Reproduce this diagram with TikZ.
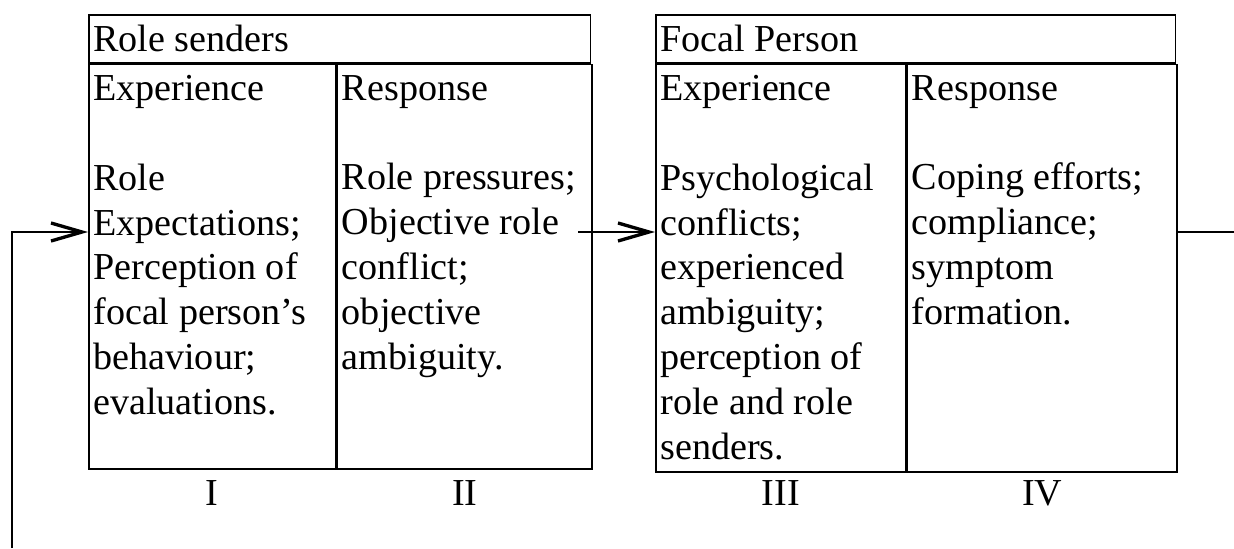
\documentclass[tikz,border=0pt]{standalone}
\usepackage{fontspec}
\setmainfont{Liberation Serif}
\usetikzlibrary{arrows.meta,positioning}

\begin{document}
\begin{tikzpicture}[
    x=0.02cm, y=-0.02cm,
    cell/.style={draw=black, line width=0.9pt, anchor=north west, inner sep=0pt},
    txt/.style={anchor=north west, inner sep=0pt, align=left, font=\fontsize{21.7}{25.5}\selectfont},
    numeral/.style={anchor=base, inner sep=0pt, font=\fontsize{21.7}{25.5}\selectfont},
    flow/.style={line width=1.3pt, -{Straight Barb[length=0.62cm, width=0.36cm, line width=1.9pt]}}
]
\useasboundingbox (0,0) rectangle (1234,548);

% --- Role senders (I, II) ---
\node[cell, minimum width=10.04cm, minimum height=0.96cm] (lhead) at (88,14) {};
\node[cell, minimum width=4.94cm, minimum height=8.1cm] (lexp) at (lhead.south west) {};
\node[cell, minimum width=5.1cm, minimum height=8.1cm] (lres) at (lexp.north east) {};

\node[txt, anchor=west] (lheadtxt) at ([xshift=0.1cm]lhead.west) {Role senders};
\node[txt] (lexptxt) at ([xshift=0.1cm, yshift=-0.23cm]lexp.north west)
    {Experience\\[25.5pt]Role\\Expectations;\\Perception of\\focal person’s\\behaviour;\\evaluations.};
\node[txt] (lrestxt) at ([xshift=0.1cm, yshift=-0.23cm]lres.north west)
    {Response\\[25.5pt]Role pressures;\\Objective role\\conflict;\\objective\\ambiguity.};

% --- Focal person (III, IV) ---
\node[cell, minimum width=10.4cm, minimum height=0.96cm] (rhead) at (655,14) {};
\node[cell, minimum width=5.0cm, minimum height=8.16cm] (rexp) at (rhead.south west) {};
\node[cell, minimum width=5.4cm, minimum height=8.16cm] (rres) at (rexp.north east) {};

\node[txt, anchor=west] (rheadtxt) at ([xshift=0.1cm]rhead.west) {Focal Person};
\node[txt] (rexptxt) at ([xshift=0.1cm, yshift=-0.23cm]rexp.north west)
    {Experience\\[25.5pt]Psychological\\conflicts;\\experienced\\ambiguity;\\perception of\\role and role\\senders.};
\node[txt] (rrestxt) at ([xshift=0.1cm, yshift=-0.23cm]rres.north west)
    {Response\\[25.5pt]Coping efforts;\\compliance;\\symptom\\formation.};

% Column numbers, on one baseline
\coordinate (numrow) at (0,505);
\node[numeral] (n1) at (lexp.south |- numrow) {I};
\node[numeral] (n2) at (lres.south |- numrow) {II};
\node[numeral] (n3) at (rexp.south |- numrow) {III};
\node[numeral] (n4) at (rres.south |- numrow) {IV};

% --- Connectors ---
\coordinate (row) at (0,232);
\coordinate (midtail) at (578,232);
\coordinate (loopL) at (12,548);
\coordinate (loopR) at (1234,232);

\draw[flow] (midtail) -- (rexp.west |- row);
\draw[flow] (loopL) |- (lexp.west |- row);
\draw[line width=1.3pt] (rres.east |- row) -- (loopR);

\end{tikzpicture}
\end{document}
